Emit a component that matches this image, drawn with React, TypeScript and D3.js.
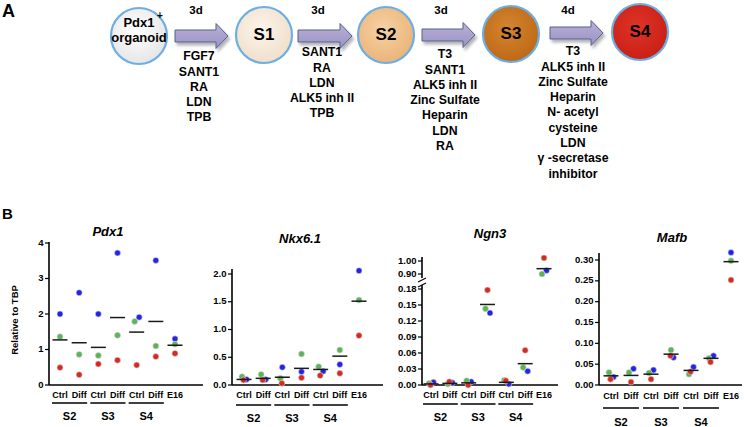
import React from "react";
import * as d3 from "d3";

// ---------- Panel A data ----------
const stageNames = ["S1", "S2", "S3", "S4"];
const durations = ["3d", "3d", "3d", "4d"];
const factorsS1 = ["FGF7", "SANT1", "RA", "LDN", "TPB"];
const factorsS2 = ["SANT1", "RA", "LDN", "ALK5 inh II", "TPB"];
const factorsS3 = ["T3", "SANT1", "ALK5 inh II", "Zinc Sulfate", "Heparin", "LDN", "RA"];
const factorsS4 = ["T3", "ALK5 inh II", "Zinc Sulfate", "Heparin", "N- acetyl", "cysteine", "LDN", "γ -secretase", "inhibitor"];

// ---------- Panel B data ----------
const categories = ["Ctrl", "Diff", "Ctrl", "Diff", "Ctrl", "Diff", "E16"];
const stageGroups = ["S2", "S3", "S4"];

const pdx1Blue = [2.0, 2.6, 2.0, 3.72, 1.91, 3.51, 1.3];
const pdx1Green = [1.36, 0.86, 0.83, 1.4, 1.79, 1.1, 1.15];
const pdx1Red = [0.49, 0.29, 0.59, 0.7, 0.56, 0.8, 0.89];
const pdx1Mean = [1.27, 1.19, 1.06, 1.9, 1.49, 1.79, 1.12];
const pdx1Ticks = [0, 1, 2, 3, 4];

const nkxBlue = [0.1, 0.1, 0.32, 0.24, 0.25, 0.37, 2.06];
const nkxGreen = [0.15, 0.19, 0.12, 0.56, 0.33, 0.63, 1.53];
const nkxRed = [0.09, 0.09, 0.03, 0.13, 0.17, 0.21, 0.89];
const nkxMean = [0.1, 0.12, 0.14, 0.3, 0.28, 0.52, 1.51];
const nkxTicks = [0, 0.5, 1.0, 1.5, 2.0];

const ngnBlue = [0.005, 0.004, 0.006, 0.135, 0.002, 0.026, 0.927];
const ngnGreen = [0.003, 0.002, 0.008, 0.143, 0.009, 0.033, 0.9];
const ngnRed = [0.0, 0.006, 0.0, 0.178, 0.008, 0.065, 1.024];
const ngnMean = [0.002, 0.003, 0.004, 0.151, 0.005, 0.04, 0.941];
const ngnTicksLow = [0, 0.03, 0.06, 0.09, 0.12, 0.15, 0.18];
const ngnTicksHigh = [0.9, 1.0];

const mafbBlue = [0.019, 0.039, 0.036, 0.066, 0.043, 0.07, 0.318];
const mafbGreen = [0.03, 0.03, 0.029, 0.084, 0.026, 0.064, 0.298];
const mafbRed = [0.014, 0.007, 0.014, 0.07, 0.032, 0.055, 0.252];
const mafbMean = [0.022, 0.023, 0.026, 0.074, 0.035, 0.064, 0.296];
const mafbTicks = [0, 0.05, 0.1, 0.15, 0.2, 0.25, 0.3];

const FONT = "'Liberation Sans', Arial, Helvetica, sans-serif";
const BLUE = "#2323ec";
const GREEN = "#5cb35a";
const RED = "#d52a20";

type Seg = { domain: [number, number]; range: [number, number]; ticks: number[]; fmt: string; top: number; bottom: number };
type Cfg = {
  gene: string; blue: number[]; green: number[]; red: number[]; mean: number[];
  axisX: number; xFirst: number; xLast: number; baselineEnd: number; segs: Seg[];
  titleX: number; titleY: number; catY: number; underY: number; groupY: number; yLabel?: boolean;
};

const panels: Cfg[] = [
  {
    gene: "Pdx1", blue: pdx1Blue, green: pdx1Green, red: pdx1Red, mean: pdx1Mean,
    axisX: 49, xFirst: 60, xLast: 175, baselineEnd: 203,
    segs: [{ domain: [0, 4], range: [385, 243], ticks: pdx1Ticks, fmt: "d", top: 242, bottom: 385 }],
    titleX: 108, titleY: 233, catY: 396, underY: 403, groupY: 417, yLabel: true,
  },
  {
    gene: "Nkx6.1", blue: nkxBlue, green: nkxGreen, red: nkxRed, mean: nkxMean,
    axisX: 232, xFirst: 244, xLast: 359, baselineEnd: 383,
    segs: [{ domain: [0, 2], range: [385, 274], ticks: nkxTicks, fmt: ".1f", top: 269, bottom: 385 }],
    titleX: 300, titleY: 240, catY: 396, underY: 405, groupY: 419,
  },
  {
    gene: "Ngn3", blue: ngnBlue, green: ngnGreen, red: ngnRed, mean: ngnMean,
    axisX: 422, xFirst: 431, xLast: 544, baselineEnd: 558,
    segs: [
      { domain: [0, 0.18], range: [385, 289], ticks: ngnTicksLow, fmt: ".2f", top: 285, bottom: 385 },
      { domain: [0.9, 1.0], range: [274, 261], ticks: ngnTicksHigh, fmt: ".2f", top: 257, bottom: 278 },
    ],
    titleX: 490, titleY: 235, catY: 396, underY: 404, groupY: 418,
  },
  {
    gene: "Mafb", blue: mafbBlue, green: mafbGreen, red: mafbRed, mean: mafbMean,
    axisX: 599, xFirst: 611, xLast: 731, baselineEnd: 742,
    segs: [{ domain: [0, 0.3], range: [385, 260], ticks: mafbTicks, fmt: ".2f", top: 253, bottom: 385 }],
    titleX: 672, titleY: 239, catY: 397, underY: 408, groupY: 423,
  },
];

function Panel({ cfg }: { cfg: Cfg }) {
  const x = d3.scalePoint<number>().domain(d3.range(categories.length)).range([cfg.xFirst, cfg.xLast]);
  const scales = cfg.segs.map((s) => d3.scaleLinear().domain(s.domain).range(s.range));
  const y = (v: number) => {
    const i = cfg.segs.length > 1 && v > cfg.segs[0].domain[1] * 2 ? 1 : 0;
    return scales[i](v);
  };
  const series = [
    { key: "blue", color: BLUE, vals: cfg.blue, off: 2.5 },
    { key: "green", color: GREEN, vals: cfg.green, off: -2 },
    { key: "red", color: RED, vals: cfg.red, off: -0.5 },
  ];
  const dots: { cx: number; cy: number; color: string; k: string }[] = [];
  categories.forEach((_, i) => {
    const pys = series.map((s) => y(s.vals[i]));
    series.forEach((s, si) => {
      const overl = pys.some((p, pj) => pj !== si && Math.abs(p - pys[si]) < 5);
      dots.push({ cx: (x(i) as number) + (overl ? s.off : 0), cy: pys[si], color: s.color, k: s.key + i });
    });
  });
  return (
    <g>
      <text x={cfg.titleX} y={cfg.titleY} textAnchor="middle" dominantBaseline="middle"
        fontFamily={FONT} fontWeight="bold" fontStyle="italic" fontSize={13}>{cfg.gene}</text>
      {cfg.segs.map((s, si) => (
        <g key={si}>
          <line x1={cfg.axisX} x2={cfg.axisX} y1={s.top} y2={s.bottom} stroke="#000" strokeWidth={1.6} />
          {s.ticks.map((t) => (
            <g key={t}>
              <line x1={cfg.axisX - 4} x2={cfg.axisX} y1={scales[si](t)} y2={scales[si](t)} stroke="#000" strokeWidth={1.2} />
              <text x={cfg.axisX - 5.5} y={scales[si](t)} textAnchor="end" dominantBaseline="middle"
                fontFamily={FONT} fontWeight="bold" fontSize={9.5}>{d3.format(s.fmt)(t)}</text>
            </g>
          ))}
        </g>
      ))}
      {cfg.segs.length > 1 && [280, 285].map((by) => (
        <line key={by} x1={cfg.axisX - 4} x2={cfg.axisX + 4} y1={by + 2} y2={by - 2} stroke="#000" strokeWidth={1.2} />
      ))}
      <line x1={cfg.axisX} x2={cfg.baselineEnd} y1={385} y2={385} stroke="#000" strokeWidth={1.6} />
      {cfg.yLabel && (
        <text transform="translate(15,320) rotate(-90)" textAnchor="middle" dominantBaseline="middle"
          fontFamily={FONT} fontWeight="bold" fontSize={9.5}>Relative to TBP</text>
      )}
      {dots.map((d) => (
        <circle key={d.k} cx={d.cx} cy={d.cy} r={3} fill={d.color} stroke="#d8d8d8" strokeWidth={0.6} />
      ))}
      {cfg.mean.map((m, i) => (
        <line key={"m" + i} x1={(x(i) as number) - 7.5} x2={(x(i) as number) + 7.5} y1={y(m)} y2={y(m)}
          stroke="#1a1a1a" strokeWidth={1.5} />
      ))}
      {categories.map((c, i) => (
        <text key={"c" + i} x={x(i)} y={cfg.catY} textAnchor="middle" dominantBaseline="middle"
          fontFamily={FONT} fontWeight="bold" fontSize={9}>{c}</text>
      ))}
      {stageGroups.map((g, gi) => {
        const a = x(gi * 2) as number;
        const b = x(gi * 2 + 1) as number;
        return (
          <g key={g}>
            <line x1={a - 8} x2={b + 8} y1={cfg.underY} y2={cfg.underY} stroke="#000" strokeWidth={1.5} />
            <text x={(a + b) / 2} y={cfg.groupY} textAnchor="middle" dominantBaseline="middle"
              fontFamily={FONT} fontWeight="bold" fontSize={11}>{g}</text>
          </g>
        );
      })}
    </g>
  );
}

const circleFills = [
  ["#ffffff", "#e6e6e6"],
  ["#fcf5ec", "#f0dfca"],
  ["#f6d2a4", "#ebb479"],
  ["#d4852f", "#bf6917"],
  ["#df3428", "#c91f15"],
];
const circleX = [139, 264, 386, 511, 640];
const circleY = [36, 35, 35, 34, 32];
const arrows = [[175, 228, 36], [298, 352, 36], [422, 475, 35], [550, 603, 33]];
const durX = [196, 318, 441, 568];
const factorLists = [factorsS1, factorsS2, factorsS3, factorsS4];
const factorX = [199, 322, 445, 573];
const factorY = [57, 53, 55, 52];

function arrowPath(x0: number, x1: number, cy: number) {
  const p = d3.path();
  p.moveTo(x0, cy - 6);
  p.lineTo(x1 - 12, cy - 6);
  p.lineTo(x1 - 12, cy - 12.5);
  p.lineTo(x1, cy);
  p.lineTo(x1 - 12, cy + 12.5);
  p.lineTo(x1 - 12, cy + 6);
  p.lineTo(x0, cy + 6);
  p.closePath();
  return p.toString();
}

function PanelA() {
  return (
    <g fontFamily={FONT} fontWeight="bold">
      <defs>
        {circleFills.map((f, i) => (
          <radialGradient key={i} id={"cg" + i} cx="45%" cy="40%" r="60%">
            <stop offset="0%" stopColor={f[0]} />
            <stop offset="100%" stopColor={f[1]} />
          </radialGradient>
        ))}
        <linearGradient id="ag" x1="0" y1="0" x2="0" y2="1">
          <stop offset="0%" stopColor="#b9b2d8" />
          <stop offset="100%" stopColor="#9a91c2" />
        </linearGradient>
        <filter id="sh" x="-30%" y="-30%" width="160%" height="180%">
          <feDropShadow dx={2} dy={3} stdDeviation={1.8} floodColor="#000" floodOpacity={0.3} />
        </filter>
      </defs>
      <text x={2} y={17} fontSize={18}>A</text>
      {arrows.map((a, i) => (
        <path key={i} d={arrowPath(a[0], a[1], a[2])} fill="url(#ag)" stroke="#55608f" strokeWidth={1} filter="url(#sh)" />
      ))}
      {circleX.map((cx, i) => (
        <circle key={i} cx={cx} cy={circleY[i]} r={28} fill={`url(#cg${i})`} stroke="#6caee6" strokeWidth={2.2} />
      ))}
      <text x={139} y={24} textAnchor="middle" dominantBaseline="middle" fontSize={13}>Pdx1</text>
      <text x={160} y={16} textAnchor="middle" dominantBaseline="middle" fontSize={10}>+</text>
      <text x={139} y={39} textAnchor="middle" dominantBaseline="middle" fontSize={13}>organoid</text>
      {stageNames.map((s, i) => (
        <text key={s} x={circleX[i + 1]} y={circleY[i + 1] + 1} textAnchor="middle" dominantBaseline="middle" fontSize={17}>{s}</text>
      ))}
      {durations.map((d, i) => (
        <text key={i} x={durX[i]} y={11} textAnchor="middle" dominantBaseline="middle" fontSize={11.5}>{d}</text>
      ))}
      {factorLists.map((list, i) =>
        list.map((f, j) => (
          <text key={i + "-" + j} x={factorX[i]} y={factorY[i] + j * 15.3} textAnchor="middle" dominantBaseline="middle" fontSize={12.3}>{f}</text>
        ))
      )}
    </g>
  );
}

export default function App() {
  return (
    <svg width={744} height={427} style={{ position: "absolute", left: 0, top: 0, background: "#fff" }}>
      <rect width={744} height={427} fill="#fff" />
      <PanelA />
      <text x={2} y={219} fontFamily={FONT} fontWeight="bold" fontSize={15}>B</text>
      {panels.map((p) => <Panel key={p.gene} cfg={p} />)}
    </svg>
  );
}
